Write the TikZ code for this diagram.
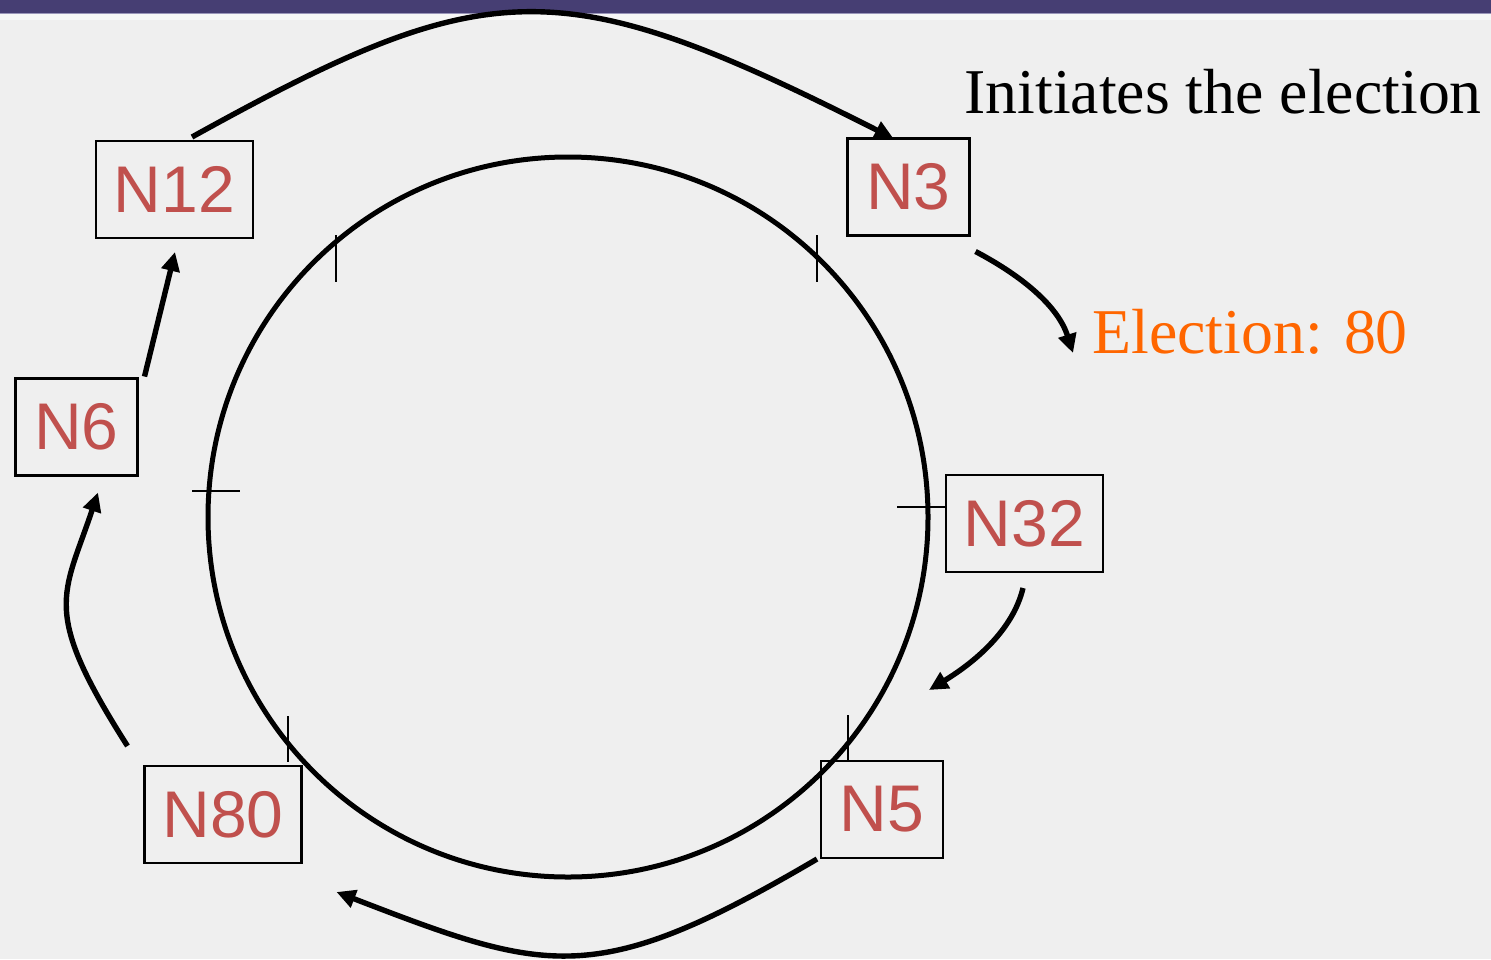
\documentclass[tikz,border=0pt]{standalone}
\usepackage{fontspec}
\setmainfont{Liberation Serif}
\newfontfamily\boxfont{Liberation Sans}
\usetikzlibrary{arrows.meta,calc}
\definecolor{bg}{HTML}{EFEFEF}
\definecolor{barc}{HTML}{463E73}
\definecolor{barl}{HTML}{9A96BA}
\definecolor{nred}{HTML}{C0504D}
\definecolor{eorange}{HTML}{FF6600}
\begin{document}
\begin{tikzpicture}[x=0.5pt,y=-0.5pt,
  nbox/.style={draw=black,line width=1.1pt,minimum height=48.5pt,inner sep=0pt,outer sep=0pt,text=nred,font=\boxfont\fontsize{33}{40}\selectfont},
  wide/.style={nbox,minimum width=78.5pt},
  narrow/.style={nbox,minimum width=61pt},
  conn/.style={line width=2.7pt,-{Triangle[length=9.5pt,width=9pt]}},
  ring/.style={line width=2.5pt},
  tickm/.style={line width=0.8pt},
  lbl/.style={anchor=base west,inner sep=0pt,font=\fontsize{31.9}{38}\selectfont}]
\useasboundingbox (0,0) rectangle (1491,959);
\fill[bg] (0,0) rectangle (1491,959);
\fill[barc] (0,0) rectangle (1491,12.5);
\fill[barl] (0,12.5) rectangle (1491,14);
\fill[white,opacity=0.5] (0,14) rectangle (1491,20);
% ring
\draw[ring] (568,517) circle[radius=360];
\draw[tickm] (336,235) -- (336,282);
\draw[tickm] (817,235) -- (817,282);
\draw[tickm] (192,491) -- (240,491);
\draw[tickm] (897,507) -- (945,507);
\draw[tickm] (288,716) -- (288,762);
\draw[tickm] (848,715) -- (848,761);
% nodes
\node[wide] (N12) at (174.5,189.5) {N12};
\node[narrow] (N3) at (908.5,187) {N3};
\node[narrow] (N6) at (76.5,427) {N6};
\node[wide] (N32) at (1024.5,523.5) {N32};
\node[wide] (N80) at (223,814.5) {N80};
\node[narrow] (N5) at (882,809.5) {N5};
\node[lbl] (init) at (964,113) {Initiates the election};
\node[lbl,text=eorange] (elect) at (1092,353) {Election: 80};
\coordinate (e1) at (1073,353);
\coordinate (e2) at (929,690);
% connectors
\draw[conn] ($(N12.north)+(17.5,-4)$) .. controls (490,-28) and (560,-30) .. ($(N3.north west)+(46,0)$);
\draw[conn] ($(N3.south east)+(6,16)$) .. controls (1022,276) and (1058,306) .. (e1);
\draw[conn] ($(N32.south)+(-1.5,16)$) .. controls (1013,630) and (975,662) .. (e2);
\draw[conn] ($(N5.south west)+(-4,1)$) .. controls (595,989.5) and (548,973.5) .. ($(N80.south east)+(35,29)$);
\draw[conn] ($(N80.north west)+(-17,-20)$) .. controls (40.5,609.5) and (63.2,596.6) .. ($(N6.south)+(21.5,17)$);
\draw[conn] ($(N6.north east)+(7,-2)$) -- ($(N12.south)+(0.5,14)$);
\end{tikzpicture}
\end{document}
